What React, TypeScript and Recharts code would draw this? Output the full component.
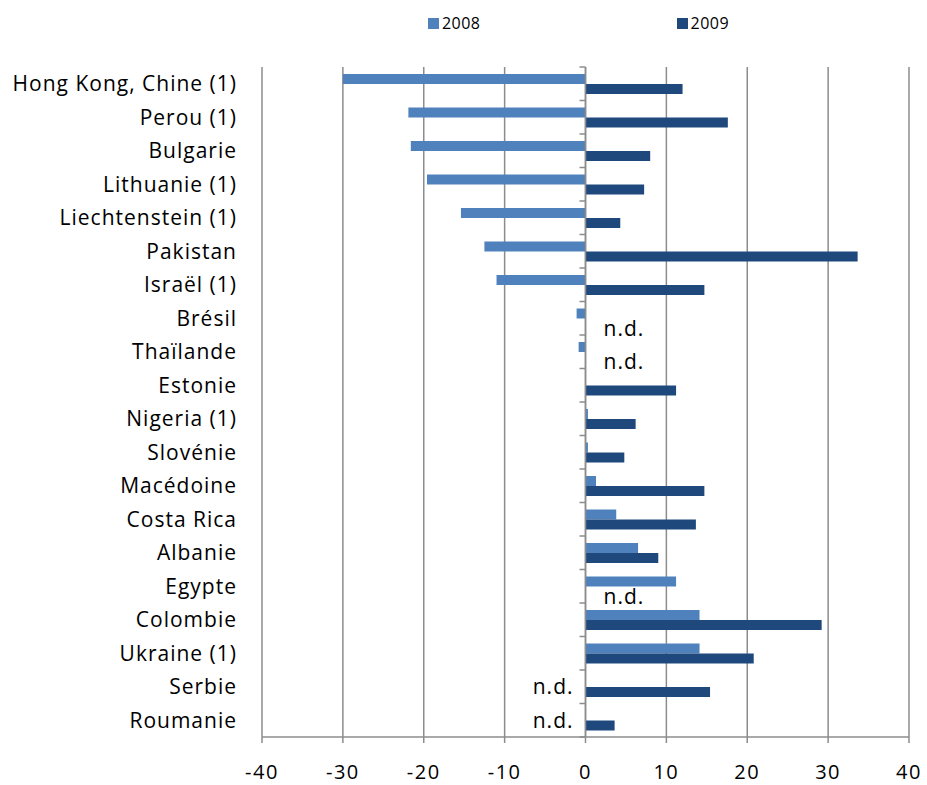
import React from "react";
import {
  BarChart,
  Bar,
  XAxis,
  YAxis,
  CartesianGrid,
  ReferenceLine,
} from "recharts";

const categories = [
  "Hong Kong, Chine (1)",
  "Perou (1)",
  "Bulgarie",
  "Lithuanie (1)",
  "Liechtenstein (1)",
  "Pakistan",
  "Israël (1)",
  "Brésil",
  "Thaïlande",
  "Estonie",
  "Nigeria (1)",
  "Slovénie",
  "Macédoine",
  "Costa Rica",
  "Albanie",
  "Egypte",
  "Colombie",
  "Ukraine (1)",
  "Serbie",
  "Roumanie",
];

// null = n.d.
const values2008 = [
  -30.0, -21.9, -21.6, -19.6, -15.4, -12.5, -11.0, -1.1, -0.85, 0.05, 0.3, 0.3,
  1.3, 3.8, 6.5, 11.2, 14.1, 14.1, null, null,
];
const values2009 = [
  12.0, 17.6, 8.0, 7.25, 4.3, 33.65, 14.7, null, null, 11.2, 6.2, 4.8, 14.7,
  13.65, 9.0, null, 29.2, 20.8, 15.4, 3.6,
];

const xTicks = [-40, -30, -20, -10, 0, 10, 20, 30, 40];

const series = [
  { key: "v2008", name: "2008", color: "#4f81bd" },
  { key: "v2009", name: "2009", color: "#1f497d" },
];

const data = categories.map((name, i) => ({
  name,
  v2008: values2008[i],
  v2009: values2009[i],
}));

const FONT = "'Open Sans', sans-serif";
const GRID = "#8c8c8c";

const CategoryTick = (props: any) => {
  const { x, y, payload } = props;
  return (
    <text
      x={x}
      y={y}
      dy="0.35em"
      textAnchor="end"
      fill="#000"
      fontSize={21}
      letterSpacing={1}
      fontFamily={FONT}>
      {payload.value}
    </text>
  );
};

const ndText = (x: number, y: number, anchor: "start" | "end", key: string) => (
  <text
    key={key}
    x={x}
    y={y}
    dy="0.35em"
    textAnchor={anchor}
    fill="#000"
    fontSize={21}
    letterSpacing={1}
    fontFamily={FONT}>
    n.d.
  </text>
);

// zero axis with small ticks between the categories, plus the n.d. notes
const ZeroAxis = (props: any) => {
  const { x1, y1, x2, y2 } = props;
  const top = Math.min(y1, y2);
  const bottom = Math.max(y1, y2);
  const step = (bottom - top) / categories.length;
  const marks = [];
  for (let i = 0; i <= categories.length; i++) {
    const yy = top + i * step;
    marks.push(
      <line key={i} x1={x1 - 6} x2={x1} y1={yy} y2={yy} stroke={GRID} strokeWidth={1.5} />
    );
  }
  const notes = [];
  categories.forEach((_, i) => {
    const cy = top + (i + 0.5) * step;
    if (values2008[i] == null) notes.push(ndText(x1 - 12, cy, "end", `a${i}`));
    if (values2009[i] == null) notes.push(ndText(x1 + 18, cy + 10, "start", `b${i}`));
  });
  return (
    <g>
      <line x1={x1} y1={y1} x2={x2} y2={y2} stroke={GRID} strokeWidth={1.5} />
      {marks}
      {notes}
    </g>
  );
};

const App: React.FC = () => {
  return (
    <div style={{ position: "absolute", left: 0, top: 0, width: 927, height: 785, background: "#fff" }}>
      <div
        style={{
          position: "absolute",
          left: 255,
          top: 12,
          width: 647,
          display: "flex",
          justifyContent: "center",
          gap: 196,
          fontFamily: FONT,
          fontSize: 16,
          letterSpacing: 0.5,
        }}>
        {series.map((s) => (
          <div key={s.key} style={{ display: "flex", alignItems: "center" }}>
            <span style={{ width: 11, height: 11, background: s.color, display: "inline-block", marginRight: 3 }} />
            <span>{s.name}</span>
          </div>
        ))}
      </div>
      <BarChart
        width={927}
        height={785}
        data={data}
        layout="vertical"
        barGap={0}
        barSize={10}
        margin={{ top: 67, right: 18, left: 0, bottom: 8 }}>
        <CartesianGrid horizontal={false} stroke={GRID} strokeWidth={1.5} />
        <XAxis
          type="number"
          domain={[-40, 40]}
          ticks={xTicks}
          height={40}
          stroke={GRID}
          strokeWidth={1.5}
          tickSize={6}
          tickMargin={22}
          tick={{ fill: "#000", fontSize: 20, letterSpacing: 1.5, fontFamily: FONT }}
        />
        <YAxis
          type="category"
          dataKey="name"
          width={262}
          axisLine={false}
          tickLine={false}
          tickSize={0}
          tickMargin={25}
          interval={0}
          tick={<CategoryTick />}
        />
        <ReferenceLine x={0} shape={<ZeroAxis />} />
        {series.map((s) => (
          <Bar key={s.key} dataKey={s.key} name={s.name} fill={s.color} isAnimationActive={false} />
        ))}
      </BarChart>
    </div>
  );
};

export default App;
